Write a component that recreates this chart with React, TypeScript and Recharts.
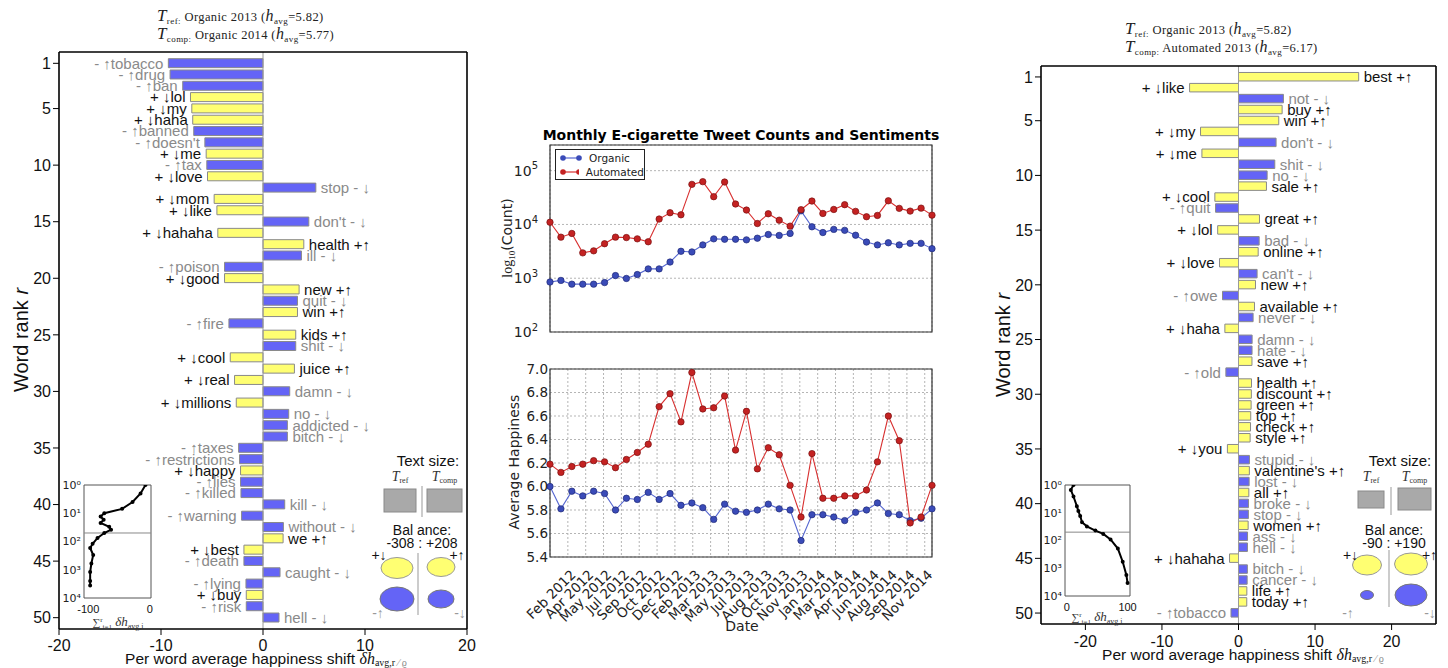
import React from "react";
import {
  Bar,
  BarChart,
  CartesianGrid,
  Cell,
  LabelList,
  Line,
  LineChart,
  ReferenceArea,
  ReferenceLine,
  XAxis,
  YAxis,
} from "recharts";

// ---- word shift: Organic 2013 vs Organic 2014 ----
const orgWords = [
  "tobacco", "drug", "ban", "lol", "my", "haha", "banned", "doesn't", "me", "tax",
  "love", "stop", "mom", "like", "don't", "hahaha", "health", "ill", "poison", "good",
  "new", "quit", "win", "fire", "kids", "shit", "cool", "juice", "real", "damn",
  "millions", "no", "addicted", "bitch", "taxes", "restrictions", "happy", "lies", "killed", "kill",
  "warning", "without", "we", "best", "death", "caught", "lying", "buy", "risk", "hell",
];
const orgShift = [
  -9.28, -9.11, -7.87, -7.11, -6.98, -6.89, -6.79, -5.7, -5.57, -5.51,
  -5.44, 5.18, -4.79, -4.52, 4.49, -4.43, 4.0, 3.77, -3.77, -3.77,
  3.54, 3.38, 3.38, -3.34, 3.21, 3.21, -3.21, 3.08, -2.79, 2.62,
  -2.62, 2.52, 2.39, 2.39, -2.39, -2.3, -2.2, -2.2, -2.16, 2.13,
  -2.1, 2.0, 1.97, -1.87, -1.87, 1.67, -1.67, -1.64, -1.64, 1.57,
];
// "+" = happy word (yellow), "-" = sad word (blue)
const orgValence = ("---+++--+-" + "+-++-++--+" + "+-+-+-+++-" + "+-----+---" + "--++---+--").split("");

// ---- word shift: Organic 2013 vs Automated 2013 ----
const autoWords = [
  "best", "like", "not", "buy", "win", "my", "don't", "me", "shit", "no",
  "sale", "cool", "quit", "great", "lol", "bad", "online", "love", "can't", "new",
  "owe", "available", "never", "haha", "damn", "hate", "save", "old", "health", "discount",
  "green", "top", "check", "style", "you", "stupid", "valentine's", "lost", "all", "broke",
  "stop", "women", "ass", "hell", "hahaha", "bitch", "cancer", "life", "today", "tobacco",
];
const autoShift = [
  15.7, -6.39, 5.87, 5.7, 5.26, -4.96, 4.91, -4.78, 4.74, 3.74,
  3.65, -3.09, -3.0, 2.74, -2.72, 2.7, 2.57, -2.48, 2.43, 2.22,
  -2.09, 2.09, 1.91, -1.78, 1.78, 1.77, 1.76, -1.65, 1.7, 1.68,
  1.65, 1.6, 1.57, 1.52, -1.45, 1.43, 1.42, 1.39, 1.35, 1.3,
  1.29, 1.26, 1.18, 1.17, -1.17, 1.16, 1.13, 1.09, 1.08, -0.98,
];
const autoValence = ("++-+++-+--" + "++-++-++-+" + "-+-+--+-++" + "+++++-+-+-" + "-+--+--++-").split("");

const rankTicks = [1, 5, 10, 15, 20, 25, 30, 35, 40, 45, 50];
const shiftTicks = [-20, -10, 0, 10, 20];

// ---- insets: cumulative shift vs rank ----
const orgInsetRank = [1, 2, 4, 7, 10, 13, 17, 22, 30, 38, 50, 75, 120, 170, 300, 600, 1200, 2500, 3600];
const orgInsetCum = [-7, -15, -28, -45, -74, -80, -75, -80, -66, -63, -74, -85, -93, -97, -92, -95, -97, -97, -97];
const autoInsetRank = [1, 1.5, 2.6, 5.8, 8.7, 13, 22, 31, 44, 58, 92, 196, 580, 1740, 3400];
const autoInsetCum = [11, 6.6, 11, 16.5, 19, 22, 25, 33, 47, 60, 72, 84, 92, 98, 100];
const insetRankTicks = [1, 10, 100, 1000, 10000];

// ---- monthly series Jan 2012 .. Dec 2014 ----
const organicCount = [
  850, 910, 775, 775, 775, 830, 1120, 990, 1170, 1490, 1490, 2000,
  3170, 3080, 4160, 5400, 5300, 5300, 5170, 5550, 6500, 6250, 6800, 17900,
  9040, 7070, 8090, 7770, 6300, 4700, 4160, 4560, 4160, 4450, 4450, 3550,
];
const automatedCount = [
  11000, 5800, 6800, 2960, 3230, 4380, 5800, 5700, 5400, 4760, 12600, 16500,
  15100, 55600, 62400, 32800, 61500, 24000, 18500, 10400, 15800, 12000, 9300, 18800,
  27200, 16000, 19000, 23300, 17500, 13900, 14700, 27500, 19900, 17700, 20100, 14900,
];
const organicHappy = [
  6.0, 5.81, 5.96, 5.92, 5.96, 5.94, 5.8, 5.9, 5.89, 5.95, 5.89, 5.94,
  5.84, 5.86, 5.82, 5.72, 5.85, 5.79, 5.78, 5.8, 5.85, 5.81, 5.8, 5.54,
  5.76, 5.76, 5.74, 5.71, 5.78, 5.8, 5.86, 5.77, 5.76, 5.71, 5.73, 5.81,
];
const automatedHappy = [
  6.19, 6.12, 6.17, 6.19, 6.22, 6.21, 6.16, 6.23, 6.29, 6.36, 6.68, 6.79,
  6.55, 6.97, 6.66, 6.67, 6.77, 6.31, 6.64, 6.15, 6.33, 6.27, 6.01, 5.74,
  6.28, 5.9, 5.9, 5.92, 5.92, 5.97, 6.21, 6.6, 6.39, 5.69, 5.74, 6.01,
];
const dateTickLabels = [
  "Feb 2012", "Apr 2012", "May 2012", "Jul 2012", "Sep 2012", "Oct 2012", "Dec 2012",
  "Feb 2013", "Mar 2013", "May 2013", "Jul 2013", "Aug 2013", "Oct 2013", "Nov 2013",
  "Jan 2014", "Mar 2014", "Apr 2014", "Jun 2014", "Aug 2014", "Sep 2014", "Nov 2014",
];
const seriesNames = ["Organic", "Automated"];
const seriesColors = ["#3a4bb8", "#c42222"];
const happyTicks = [5.4, 5.6, 5.8, 6.0, 6.2, 6.4, 6.6, 6.8, 7.0];
const countTicks = [100, 1000, 10000, 100000];

const BLUE = "#6464f6";
const YELLOW = "#ffff72";
const SANS = "Liberation Sans, Arial, sans-serif";
const MPL = "DejaVu Sans, sans-serif";
const SERIF = "Liberation Serif, DejaVu Serif, serif";
const SUP = ["⁰", "¹", "²", "³", "⁴", "⁵"];

// tick positions every ~50 days, in month units
const dateTicks = dateTickLabels.map((_, k) => (k + 1) * 1.635);

const monthData = organicCount.map((v, i) => ({
  i,
  organicCount: v,
  automatedCount: automatedCount[i],
  organicHappy: organicHappy[i],
  automatedHappy: automatedHappy[i],
}));

type ShiftProps = {
  words: string[];
  shifts: number[];
  valence: string[];
  domain: [number, number];
  left: number;
  width: number;
  margin: { top: number; right: number; bottom: number; left: number };
  barSize: number;
  tickMargin: number;
};

function WordShift({ words, shifts, valence, domain, left, width, margin, barSize, tickMargin }: ShiftProps) {
  const data = words.map((w, i) => ({ rank: i + 1, shift: shifts[i], word: w, valence: valence[i] }));

  const renderLabel = (props: any) => {
    const vb = props.viewBox ?? props;
    const idx = words.indexOf(String(props.value));
    if (idx < 0) return null;
    const x = Number(vb.x);
    const w = Number(vb.width);
    const y = Number(vb.y);
    const h = Number(vb.height);
    const lo = Math.min(x, x + w);
    const hi = Math.max(x, x + w);
    const happy = valence[idx] === "+";
    const neg = shifts[idx] < 0;
    const text = neg ? `${happy ? "+ ↓" : "- ↑"}${words[idx]}` : `${words[idx]} ${happy ? "+↑" : "- ↓"}`;
    return (
      <text
        x={neg ? lo - 5 : hi + 5}
        y={y + h / 2}
        dy="0.36em"
        textAnchor={neg ? "end" : "start"}
        fill={happy ? "#111" : "#8a8a8a"}
        fontSize={15}
        fontFamily={SANS}
      >
        {text}
      </text>
    );
  };

  return (
    <div style={{ position: "absolute", left, top: 0 }}>
      <BarChart width={width} height={668} data={data} layout="vertical" margin={margin}>
        <XAxis
          xAxisId="b"
          type="number"
          domain={domain}
          ticks={shiftTicks}
          allowDataOverflow
          height={25}
          tickSize={6}
          tickMargin={tickMargin}
          stroke="#000"
          axisLine={{ stroke: "#000", strokeWidth: 1.6 }}
          tick={{ fill: "#111", fontSize: 16, fontFamily: SANS }}
        />
        <XAxis
          xAxisId="t"
          type="number"
          orientation="top"
          domain={domain}
          ticks={shiftTicks}
          allowDataOverflow
          height={8}
          tickSize={6}
          tick={false}
          stroke="#000"
          axisLine={{ stroke: "#000", strokeWidth: 1.6 }}
        />
        <YAxis
          yAxisId="l"
          type="number"
          dataKey="rank"
          domain={[0, 51]}
          ticks={rankTicks}
          width={40}
          tickSize={6}
          stroke="#000"
          axisLine={{ stroke: "#000", strokeWidth: 1.6 }}
          tick={{ fill: "#111", fontSize: 16, fontFamily: SANS }}
        />
        <YAxis
          yAxisId="r"
          type="number"
          dataKey="rank"
          orientation="right"
          domain={[0, 51]}
          ticks={rankTicks}
          width={8}
          tickSize={6}
          tick={false}
          stroke="#000"
          axisLine={{ stroke: "#000", strokeWidth: 1.6 }}
        />
        <ReferenceLine xAxisId="b" yAxisId="l" x={0} stroke="#9a9a9a" strokeWidth={1} />
        <Bar
          xAxisId="b"
          yAxisId="l"
          dataKey="shift"
          barSize={barSize}
          stroke="#8a8a8a"
          strokeWidth={1}
          isAnimationActive={false}
        >
          {data.map((d) => (
            <Cell key={d.rank} fill={d.valence === "+" ? YELLOW : BLUE} />
          ))}
          <LabelList dataKey="word" content={renderLabel} />
        </Bar>
      </BarChart>
    </div>
  );
}

const PowTick = (props: any) => {
  const { x, y, payload, fs = 14, sup = 10, gap = 4 } = props;
  const exp = Math.round(Math.log10(payload.value));
  return (
    <text x={x - gap} y={y} dy="0.36em" textAnchor="end" fontSize={fs} fill="#222" fontFamily={MPL}>
      10
      <tspan dy={-fs * 0.45} fontSize={sup}>
        {exp}
      </tspan>
    </text>
  );
};

type InsetProps = {
  ranks: number[];
  cum: number[];
  domain: [number, number];
  xTicks: number[];
  left: number;
  right: number;
  bottom: number;
};

function Inset({ ranks, cum, domain, xTicks, left, right, bottom }: InsetProps) {
  const data = ranks.map((r, i) => ({ rank: r, cum: cum[i] }));
  return (
    <div style={{ position: "absolute", left, top: 470 }}>
      <LineChart width={114} height={175} data={data} margin={{ top: 15, right, bottom, left: 0 }}>
        <XAxis
          type="number"
          dataKey="cum"
          domain={domain}
          ticks={xTicks}
          allowDataOverflow
          height={16}
          tickLine={false}
          axisLine={false}
          tickMargin={1}
          tick={{ fill: "#111", fontSize: 11, fontFamily: SANS }}
        />
        <YAxis
          type="number"
          dataKey="rank"
          scale="log"
          domain={[1, 10000]}
          reversed
          allowDataOverflow
          ticks={insetRankTicks}
          interval={0}
          width={40}
          tickSize={0}
          tickMargin={3}
          tickLine={false}
          axisLine={false}
          tickFormatter={(v: number) => `10${SUP[Math.round(Math.log10(v))]}`}
          tick={{ fill: "#222", fontSize: 11, fontFamily: MPL }}
        />
        <ReferenceArea x1={domain[0]} x2={domain[1]} y1={1} y2={10000} fill="#fff" fillOpacity={1} stroke="#555" strokeWidth={1} />
        <ReferenceLine y={50} stroke="#888" strokeWidth={1} />
        <Line
          dataKey="rank"
          stroke="#000"
          strokeWidth={2}
          dot={{ r: 1, fill: "#000", stroke: "#000" }}
          isAnimationActive={false}
        />
      </LineChart>
    </div>
  );
}

const DateTick = (props: any) => {
  const { x, y, index } = props;
  return (
    <g transform={`translate(${x + 2},${y + 4}) rotate(-45)`}>
      <text x={0} y={0} dy="0.7em" textAnchor="end" fontSize={13.5} fill="#222" fontFamily={MPL}>
        {dateTickLabels[index]}
      </text>
    </g>
  );
};

function Middle() {
  const grid = <CartesianGrid stroke="#b5b5b5" strokeDasharray="2 2" />;
  const lines = (keys: string[]) =>
    keys.map((k, s) => (
      <Line
        key={k}
        dataKey={k}
        stroke={s === 0 ? "#5566d0" : "#d83030"}
        strokeWidth={1.1}
        dot={{ r: 3.2, fill: seriesColors[s], stroke: s === 0 ? "#1f2a77" : "#7a1010", strokeWidth: 0.7 }}
        isAnimationActive={false}
      />
    ));
  return (
    <>
      <div style={{ position: "absolute", left: 490, top: 120 }}>
        <LineChart width={460} height={230} data={monthData} margin={{ top: 25, right: 18, bottom: 16, left: 10 }}>
          {grid}
          <XAxis type="number" dataKey="i" domain={[0, 35]} ticks={dateTicks} height={2} tick={false} tickLine={false} axisLine={false} />
          <YAxis
            type="number"
            scale="log"
            domain={[100, 300000]}
            allowDataOverflow
            ticks={countTicks}
            width={50}
            tickLine={false}
            axisLine={false}
            tick={<PowTick fs={14} sup={10} />}
          />
          <ReferenceArea x1={0} x2={35} y1={100} y2={300000} fill="none" stroke="#333" strokeWidth={1.2} />
          {lines(["organicCount", "automatedCount"])}
        </LineChart>
      </div>
      <div style={{ position: "absolute", left: 490, top: 350 }}>
        <LineChart width={460} height={318} data={monthData} margin={{ top: 19, right: 18, bottom: 30, left: 10 }}>
          {grid}
          <XAxis
            type="number"
            dataKey="i"
            domain={[0, 35]}
            ticks={dateTicks}
            interval={0}
            height={81}
            tickLine={false}
            axisLine={false}
            tick={<DateTick />}
          />
          <YAxis
            type="number"
            domain={[5.4, 7.0]}
            ticks={happyTicks}
            interval={0}
            width={50}
            tickSize={0}
            tickMargin={2}
            tickLine={false}
            axisLine={false}
            tickFormatter={(v: number) => v.toFixed(1)}
            tick={{ fill: "#222", fontSize: 13.5, fontFamily: MPL }}
          />
          <ReferenceArea x1={0} x2={35} y1={5.4} y2={7.0} fill="none" stroke="#333" strokeWidth={1.2} />
          {lines(["organicHappy", "automatedHappy"])}
        </LineChart>
      </div>
      <div
        style={{
          position: "absolute",
          left: 555,
          top: 149,
          width: 90,
          height: 31,
          border: "1px solid #222",
          background: "#fff",
          fontFamily: MPL,
          fontSize: 10.5,
          color: "#222",
          padding: "1px 0 0 4px",
          boxSizing: "border-box",
        }}
      >
        {seriesNames.map((n, s) => (
          <div key={n} style={{ display: "flex", alignItems: "center", height: 14 }}>
            <svg width={22} height={8} style={{ marginRight: 7 }}>
              <line x1={2} x2={20} y1={4} y2={4} stroke={s === 0 ? "#5566d0" : "#d83030"} strokeWidth={1.2} />
              <circle cx={3} cy={4} r={2.8} fill={seriesColors[s]} />
              <circle cx={19} cy={4} r={2.8} fill={seriesColors[s]} />
            </svg>
            {n}
          </div>
        ))}
      </div>
    </>
  );
}

function SizeLegend(p: { cx: number; rects: number[][]; bal: string; ell: number[][]; div1: number[]; div2: number[] }) {
  const [yl, yr, bl, br] = p.ell;
  return (
    <g fontFamily={SANS}>
      <text x={p.cx} y={466} textAnchor="middle" fontSize={15} fill="#111">
        Text size:
      </text>
      <text x={p.rects[0][0] + p.rects[0][2] / 2} y={481} textAnchor="middle" fontSize={13} fontFamily={SERIF} fill="#333">
        <tspan fontStyle="italic" fontSize={14}>T</tspan>
        <tspan fontSize={8} dy={2}>ref</tspan>
      </text>
      <text x={p.rects[1][0] + p.rects[1][2] / 2} y={481} textAnchor="middle" fontSize={13} fontFamily={SERIF} fill="#333">
        <tspan fontStyle="italic" fontSize={14}>T</tspan>
        <tspan fontSize={8} dy={2}>comp</tspan>
      </text>
      {p.rects.map((r, k) => (
        <rect key={k} x={r[0]} y={r[1]} width={r[2]} height={r[3]} fill="#a9a9a9" stroke="#8a8a8a" />
      ))}
      <line x1={p.div1[0]} x2={p.div1[0]} y1={p.div1[1]} y2={p.div1[2]} stroke="#999" />
      <text x={p.cx - 6} y={535} textAnchor="middle" fontSize={14} fill="#111">
        Bal ance:
      </text>
      <text x={p.cx - 6} y={548} textAnchor="middle" fontSize={14} fill="#111">
        {p.bal}
      </text>
      <ellipse cx={yl[0]} cy={yl[1]} rx={yl[2]} ry={yl[3]} fill={YELLOW} stroke="#999" />
      <ellipse cx={yr[0]} cy={yr[1]} rx={yr[2]} ry={yr[3]} fill={YELLOW} stroke="#999" />
      <ellipse cx={bl[0]} cy={bl[1]} rx={bl[2]} ry={bl[3]} fill={BLUE} stroke="#777" />
      <ellipse cx={br[0]} cy={br[1]} rx={br[2]} ry={br[3]} fill={BLUE} stroke="#777" />
      <line x1={p.div2[0]} x2={p.div2[0]} y1={p.div2[1]} y2={p.div2[2]} stroke="#999" />
      <text x={yl[0] - yl[2] - 2} y={560} textAnchor="middle" fontSize={14} fill="#111">+↓</text>
      <text x={yr[0] + yr[2] + 2} y={560} textAnchor="middle" fontSize={14} fill="#111">+↑</text>
      <text x={bl[0] - 19} y={618} textAnchor="middle" fontSize={14} fill="#999">-↑</text>
      <text x={br[0] + 19} y={618} textAnchor="middle" fontSize={14} fill="#999">-↓</text>
    </g>
  );
}

function Overlay() {
  const title = (x: number, y: number, name: string, body: string, val: string) => (
    <text x={x} y={y} fontFamily={SERIF} fontSize={12.5} fill="#222" letterSpacing={0.4}>
      <tspan fontStyle="italic" fontSize={17}>T</tspan>
      <tspan fontSize={9} dy={3}>{name}</tspan>
      <tspan dy={-3}>{` ${body} (`}</tspan>
      <tspan fontStyle="italic" fontSize={16}>h</tspan>
      <tspan fontSize={9} dy={3}>avg</tspan>
      <tspan dy={-3}>{`=${val})`}</tspan>
    </text>
  );
  const xLabel = (cx: number, y: number) => (
    <text x={cx} y={y} textAnchor="middle" fontFamily={SANS} fontSize={15.5} fill="#111">
      Per word average happiness shift{" "}
      <tspan fontFamily={SERIF} fontStyle="italic" fontSize={16}>δh</tspan>
      <tspan fontFamily={SERIF} fontSize={10} dy={2}>avg,r</tspan>
      <tspan fontFamily={SERIF} fontSize={10} fill="#888">{"  ⁄  ϱ"}</tspan>
    </text>
  );
  const rankLabel = (x: number, y: number) => (
    <text x={x} y={y} transform={`rotate(-90 ${x} ${y})`} textAnchor="middle" dy="0.35em" fontFamily={SANS} fontSize={20} fill="#111">
      Word rank <tspan fontStyle="italic">r</tspan>
    </text>
  );
  const insetLabel = (x: number, y: number) => (
    <text x={x} y={y} textAnchor="middle" fontFamily={SERIF} fontSize={11} fill="#333">
      ∑<tspan fontSize={7} dy={-4}>r</tspan>
      <tspan fontSize={7} dy={7}>i=1</tspan>
      <tspan dy={-3} fontStyle="italic" fontSize={13}> δh</tspan>
      <tspan dy={3} fontSize={8}>avg,i</tspan>
    </text>
  );
  return (
    <svg width={1448} height={668} style={{ position: "absolute", left: 0, top: 0, pointerEvents: "none" }}>
      {title(157, 21, "ref:", "Organic 2013", "5.82")}
      {title(157, 39, "comp:", "Organic 2014", "5.77")}
      {title(1125, 34, "ref:", "Organic 2013", "5.82")}
      {title(1125, 52, "comp:", "Automated 2013", "6.17")}
      {xLabel(266, 664)}
      {xLabel(1243, 660)}
      {rankLabel(21, 340)}
      {rankLabel(1003, 345)}
      {insetLabel(118, 626)}
      {insetLabel(1097, 621)}
      <text x={741} y={140} textAnchor="middle" fontFamily={MPL} fontWeight="bold" fontSize={14} fill="#000">
        Monthly E-cigarette Tweet Counts and Sentiments
      </text>
      <text x={507} y={238} transform="rotate(-90 507 238)" textAnchor="middle" dy="0.35em" fontSize={14} fill="#222">
        <tspan fontFamily={SERIF}>log</tspan>
        <tspan fontFamily={SERIF} fontSize={9} dy={3}>10</tspan>
        <tspan fontFamily={MPL} dy={-3}>(Count)</tspan>
      </text>
      <text x={514} y={462} transform="rotate(-90 514 462)" textAnchor="middle" dy="0.35em" fontFamily={MPL} fontSize={14} fill="#222">
        Average Happiness
      </text>
      <text x={742} y={631} textAnchor="middle" fontFamily={MPL} fontSize={14} fill="#222">
        Date
      </text>
      <SizeLegend
        cx={428}
        rects={[[384, 489, 32, 23], [427, 489, 35, 23]]}
        bal="-308 : +208"
        ell={[[397, 568, 16, 10.5], [441, 567, 14, 9.5], [397, 599, 17, 12], [441, 599, 13, 9]]}
        div1={[422, 486, 517]}
        div2={[418, 553, 615]}
      />
      <SizeLegend
        cx={1400}
        rects={[[1358, 491, 26, 17], [1398, 488, 33, 22]]}
        bal="-90 : +190"
        ell={[[1367, 565, 14.5, 10], [1411, 564, 16.5, 11], [1367, 595, 6.5, 4.5], [1411, 595, 16, 11]]}
        div1={[1391, 487, 515]}
        div2={[1389, 550, 607]}
      />
    </svg>
  );
}

export default function App() {
  return (
    <div style={{ position: "absolute", left: 0, top: 0, width: 1448, height: 668, background: "#fff", overflow: "hidden" }}>
      <WordShift
        words={orgWords}
        shifts={orgShift}
        valence={orgValence}
        domain={[-20, 20]}
        left={0}
        width={480}
        margin={{ top: 44, right: 5, bottom: 14, left: 19 }}
        barSize={9}
        tickMargin={5}
      />
      <WordShift
        words={autoWords}
        shifts={autoShift}
        valence={autoValence}
        domain={[-25.8, 25.8]}
        left={960}
        width={488}
        margin={{ top: 58, right: 4, bottom: 19, left: 41 }}
        barSize={8.5}
        tickMargin={6}
      />
      <Inset ranks={orgInsetRank} cum={orgInsetCum} domain={[-107, 2]} xTicks={[-100, 0]} left={44} right={7} bottom={31} />
      <Inset ranks={autoInsetRank} cum={autoInsetCum} domain={[-3, 104]} xTicks={[0, 100]} left={1025} right={9} bottom={33} />
      <Middle />
      <Overlay />
    </div>
  );
}
